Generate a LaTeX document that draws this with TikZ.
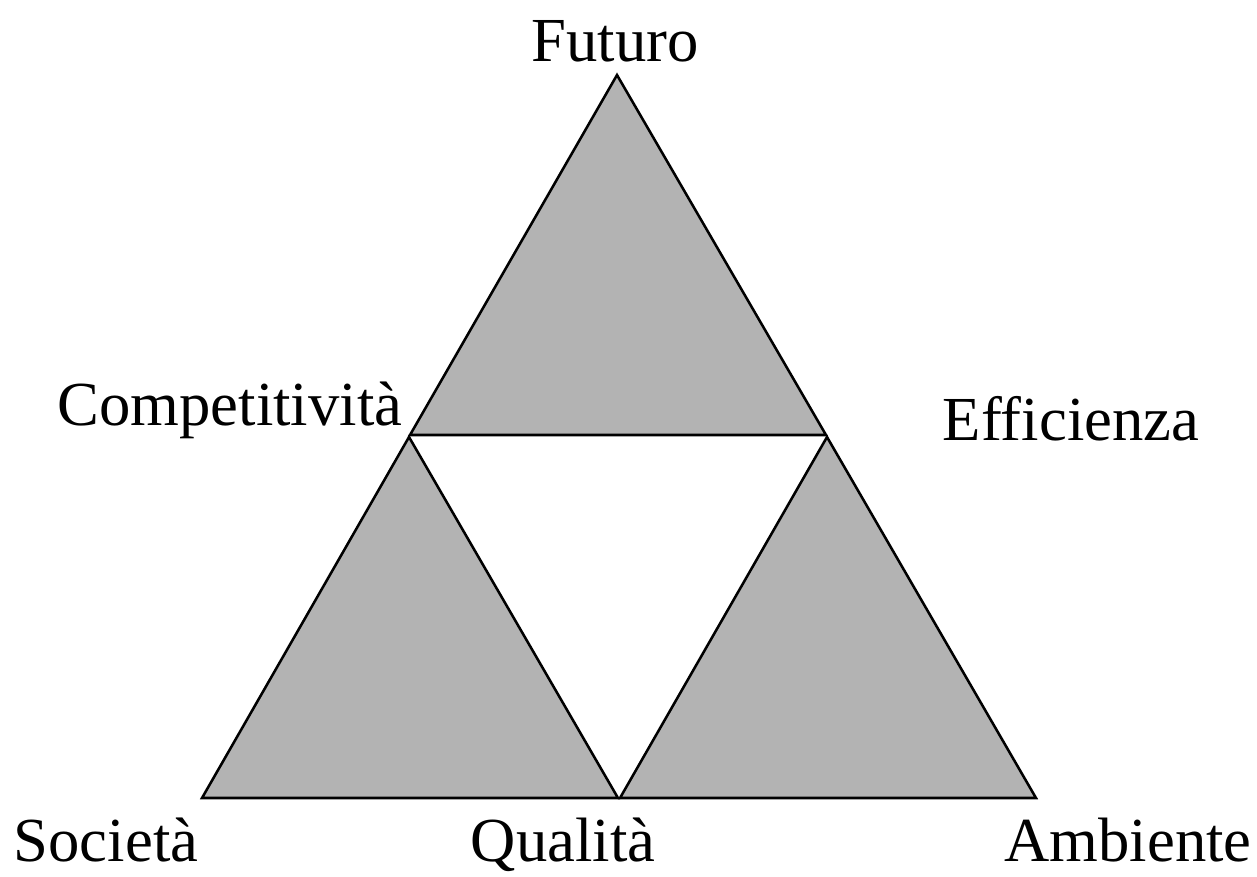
\documentclass[tikz,border=0pt]{standalone}
\usepackage{fontspec}
\setmainfont{Liberation Serif}

\tikzset{every picture/.style={line width=1.9pt}}
\tikzset{lbl/.style={anchor=base,inner sep=0pt,font=\fontsize{47}{56}\selectfont}}
\tikzset{tri/.style={fill={rgb, 255:red, 179; green, 179; blue, 179},line join=miter}}

\begin{document}
\begin{tikzpicture}[x=0.75pt,y=0.75pt,yscale=-1,xscale=1]
    \useasboundingbox (0,0) rectangle (1257,876);

    %Shape: Triangle [id:top]
    \draw [tri] (617,75) -- (826,435) -- (410,435) -- cycle ;
    %Shape: Triangle [id:left]
    \draw [tri] (409,437) -- (618,798) -- (202,798) -- cycle ;
    %Shape: Triangle [id:right]
    \draw [tri] (827,437) -- (1036,798) -- (620,798) -- cycle ;

    % Text Node
    \node [lbl] (futuro) at (615,61) {Futuro};
    % Text Node
    \node [lbl] (competitivita) at (230,425) {Competitività};
    % Text Node
    \node [lbl] (efficienza) at (1071,440) {Efficienza};
    % Text Node
    \node [lbl] (societa) at (106,861) {Società};
    % Text Node
    \node [lbl] (qualita) at (563,861) {Qualità};
    % Text Node
    \node [lbl] (ambiente) at (1128,861) {Ambiente};
\end{tikzpicture}
\end{document}
